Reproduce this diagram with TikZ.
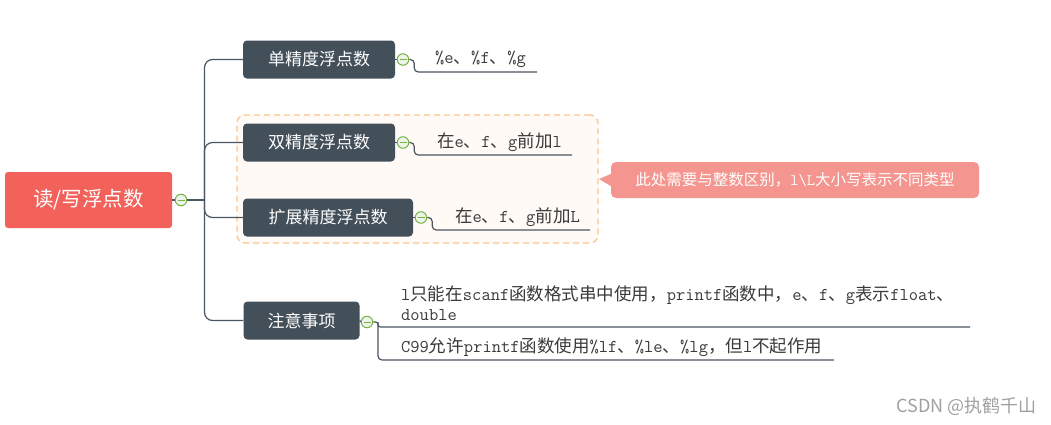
\documentclass[tikz,border=0pt]{standalone}
\usepackage{fontspec}
\setmainfont{Noto Sans CJK SC}
\newcommand\mo[1]{{\ttfamily\fontsize{18}{20}\selectfont #1}}
\definecolor{lc}{HTML}{4B5661}
\definecolor{rootc}{HTML}{F2625A}
\definecolor{brc}{HTML}{434F59}
\definecolor{gc}{HTML}{72B343}
\definecolor{gfill}{HTML}{EEF3EA}
\definecolor{leafc}{HTML}{3A3A3A}
\definecolor{dashc}{HTML}{FBC68C}
\definecolor{grpfill}{HTML}{FFFAF6}
\definecolor{notec}{HTML}{F4958F}
\definecolor{wmc}{HTML}{A0A0A0}
\tikzset{
  conn/.style={draw=lc, line width=1.2pt},
  rootbox/.style={fill=rootc, rounded corners=3, text=white, minimum width=167, minimum height=56, inner sep=0, font=\fontsize{20.5}{24}\selectfont},
  brbox/.style={fill=brc, rounded corners=4, text=white, minimum height=38, inner sep=0, font=\fontsize{17}{20}\selectfont},
  coll/.style={circle, draw=gc, fill=gfill, line width=1pt, minimum size=11.5, inner sep=0,
    path picture={\draw[gc, line width=1pt] ([xshift=-3.5pt]path picture bounding box.center) -- ([xshift=3.5pt]path picture bounding box.center);}},
  leaf/.style={anchor=west, inner sep=0, text=leafc, font=\fontsize{17.5}{20}\selectfont, align=left},
  grpbox/.style={draw=dashc, fill=grpfill, line width=1.3pt, dash pattern=on 6pt off 4pt, rounded corners=8, minimum width=361, minimum height=128, inner sep=0},
  notebox/.style={fill=notec, rounded corners=5, text=white, minimum width=368, minimum height=36, inner sep=0, font=\fontsize{15.5}{18}\selectfont},
}
\begin{document}
\begin{tikzpicture}[x=1pt, y=-1pt]
\path[use as bounding box, fill=white] (0,0) rectangle (1051,424);
% group
\node[grpbox] (grp) at (417.5,179) {};
% note
\node[notebox] (note) at (795,180) {此处需要与整数区别，\mo{\fontsize{16}{18}\selectfont l\textbackslash L}大小写表示不同类型};
\coordinate (tip) at (599,179);
\fill[notec] ([yshift=6pt]note.west) -- (tip) -- ([yshift=-6pt]note.west) -- cycle;
% root and branches
\node[rootbox] (root) at (88.5,200) {读/写浮点数};
\node[coll] (rc) at (181,200) {};
\coordinate (trunk) at (204.5,200);
\node[brbox, minimum width=152] (b1) at (319,59.5) {单精度浮点数};
\node[brbox, minimum width=152] (b2) at (319,142.5) {双精度浮点数};
\node[brbox, minimum width=170] (b3) at (328,217.5) {扩展精度浮点数};
\node[brbox, minimum width=116] (b4) at (301.5,320.5) {注意事项};
\draw[conn] (root.east) -- (rc.west);
\draw[conn] (rc.east) -- (trunk);
\foreach \b in {b1,b2,b3,b4} \draw[conn, rounded corners=8] (trunk) |- (\b.west);
% collapse circles
\node[coll] (c1) at (403,59.5) {};
\node[coll] (c2) at (403,142.5) {};
\node[coll] (c3) at (421,217.5) {};
\node[coll] (c4) at (367,322) {};
\draw[conn] (b1.east) -- (c1.west);
\draw[conn] (b2.east) -- (c2.west);
\draw[conn] (b3.east) -- (c3.west);
\draw[conn] (b4.east) -- (c4.west);
% leaves
\node[leaf] (l1) at (435,59) {\mo{\%e}、\mo{\%f}、\mo{\%g}};
\node[leaf] (l2) at (437,142) {在\mo{e}、\mo{f}、\mo{g}前加\mo{l}};
\node[leaf] (l3) at (455,217) {在\mo{e}、\mo{f}、\mo{g}前加\mo{L}};
\node[leaf] (l4a) at (401,303) {\mo{l}只能在\mo{scanf}函数格式串中使用，\mo{printf}函数中，\mo{e}、\mo{f}、\mo{g}表示\mo{float}、\\\mo{double}};
\node[leaf] (l4b) at (401,347) {\mo{C99}允许\mo{printf}函数使用\mo{\%lf}、\mo{\%le}、\mo{\%lg}，但\mo{l}不起作用};
\coordinate (u1) at (537,72);
\coordinate (u2) at (572,155);
\coordinate (u3) at (590,230);
\coordinate (j4) at (378,322);
\coordinate (u4a) at (970,327);
\coordinate (u4b) at (834,360);
\draw[conn, rounded corners=4] (c1.east) -- ++(5,0) |- (u1);
\draw[conn, rounded corners=4] (c2.east) -- ++(5,0) |- (u2);
\draw[conn, rounded corners=4] (c3.east) -- ++(5,0) |- (u3);
\draw[conn, rounded corners=2.4] (c4.east) -- (j4) |- (u4a);
\draw[conn, rounded corners=4] (j4) |- (u4b);
% watermark
\node[text=wmc, font=\fontsize{18}{20}\selectfont, anchor=east, inner sep=0] (wm) at (1037,406) {CSDN @执鹤千山};
\end{tikzpicture}
\end{document}
